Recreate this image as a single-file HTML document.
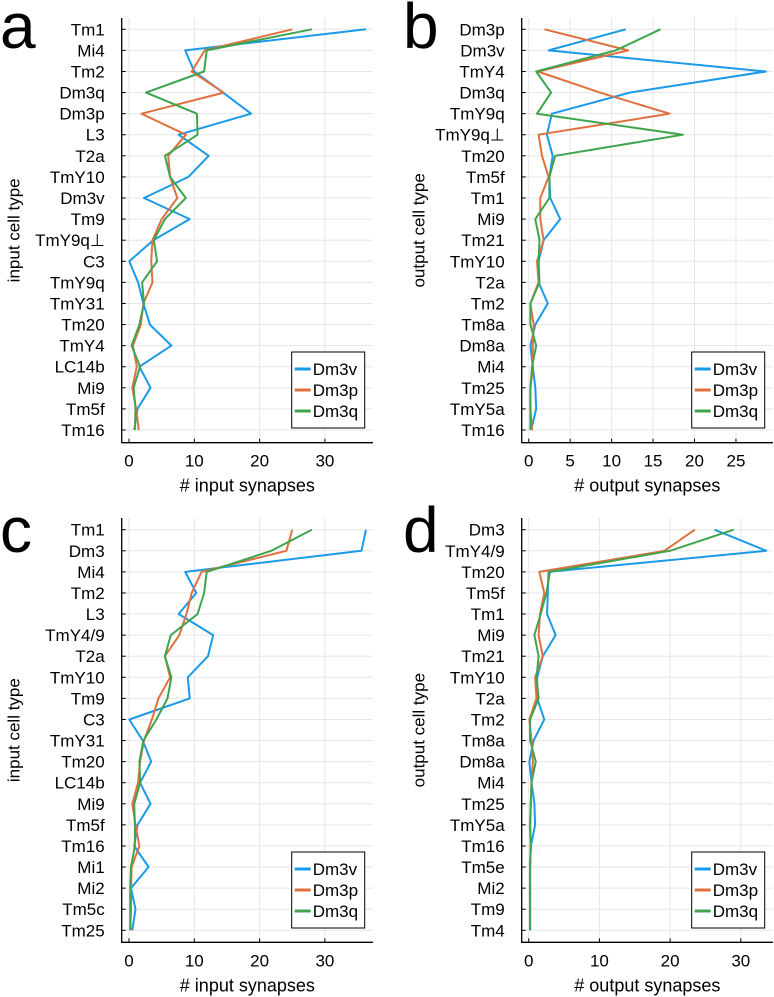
<!DOCTYPE html>
<html><head><meta charset="utf-8"><style>
body{margin:0;background:#fff;}
svg{display:block;font-family:"Liberation Sans",sans-serif;}
</style></head><body>
<svg id="fig" width="774" height="997"></svg>
<script>
const catsA=["Tm1","Mi4","Tm2","Dm3q","Dm3p","L3","T2a","TmY10","Dm3v","Tm9","TmY9q⊥","C3","TmY9q","TmY31","Tm20","TmY4","LC14b","Mi9","Tm5f","Tm16"];
const aDm3v=[36.3,8.6,10,14.4,18.7,7.6,12.2,9.1,2.3,9.3,3.7,0.05,1.4,2.2,3.2,6.5,1.6,3.3,1.3,0.8];
const aDm3p=[25,11.6,9.6,14.5,1.9,8.7,6,6.3,7.4,5,3.6,3.4,3.6,2.2,1.8,0.6,1.2,0.5,1.1,1.5];
const aDm3q=[28,11.9,11.5,2.6,10.4,10.5,5.5,6.3,8.7,5.5,3.8,4.3,2,2.3,1.6,0.4,1.7,0.7,1,0.9];
const catsB=["Dm3p","Dm3v","TmY4","Dm3q","TmY9q","TmY9q⊥","Tm20","Tm5f","Tm1","Mi9","Tm21","TmY10","T2a","Tm2","Tm8a","Dm8a","Mi4","Tm25","TmY5a","Tm16"];
const bDm3v=[11.7,2.4,28.6,12.2,2.8,2.2,2.9,2.5,2.6,3.8,1.8,1.2,1.2,2.3,0.8,0.2,0.5,0.8,0.9,0.3];
const bDm3p=[1.9,12,1.1,8.6,17,1.2,1.6,2.4,1.4,1.4,1.8,1,1.2,0.2,0.6,0.5,0.5,0.2,0.2,0.4];
const bDm3q=[15.9,10.5,0.9,2.7,1,18.6,3.2,2.5,2.5,0.8,1.3,1.2,1.3,0.2,0.2,0.9,0.4,0.2,0.2,0.2];
const catsC=["Tm1","Dm3","Mi4","Tm2","L3","TmY4/9","T2a","TmY10","Tm9","C3","TmY31","Tm20","LC14b","Mi9","Tm5f","Tm16","Mi1","Mi2","Tm5c","Tm25"];
const cDm3v=[36.3,35.6,8.6,10.3,7.6,12.9,12.1,9,9.3,0.05,2.1,3.4,1.7,3.3,1.3,0.8,3,0.3,1,0.5];
const cDm3p=[25,24.1,11.1,9.6,8.8,7.7,5.5,6.3,4.5,3.5,2.3,1.7,1.4,0.5,1,1.6,0.4,0.3,0.3,0.2];
const cDm3q=[28,21.8,11.9,11.5,10.5,6.4,5.5,6.5,5.9,4.2,2.2,1.6,1.7,0.8,0.9,0.9,0.3,0.2,0.2,0.2];
const catsD=["Dm3","TmY4/9","Tm20","Tm5f","Tm1","Mi9","Tm21","TmY10","T2a","Tm2","Tm8a","Dm8a","Mi4","Tm25","TmY5a","Tm16","Tm5e","Mi2","Tm9","Tm4"];
const dDm3v=[26.3,33.6,2.8,2.7,2.6,3.8,2,1.2,1.2,2.2,0.7,0.1,0.4,0.8,0.9,0.3,0.2,0.2,0.2,0.2];
const dDm3p=[23.5,19.2,1.5,2.2,1.6,1.4,2,0.9,1.1,0.1,0.4,0.6,0.4,0.3,0.2,0.3,0.2,0.2,0.2,0.2];
const dDm3q=[29,20,3,2.5,1.7,0.8,1.4,1.1,1.4,0.2,0.2,1,0.4,0.3,0.2,0.3,0.2,0.2,0.2,0.2];
const ticksA=[0,10,20,30], ticksB=[0,5,10,15,20,25], ticksC=[0,10,20,30], ticksD=[0,10,20,30];
const seriesNames=["Dm3v","Dm3p","Dm3q"];
const colors=["#1a9ae8","#e0703f","#3ea44e"];
const NS="http://www.w3.org/2000/svg";
const svg=document.getElementById('fig');
function mk(tag,attrs,parent){const e=document.createElementNS(NS,tag);for(const k in attrs)e.setAttribute(k,attrs[k]);(parent||svg).appendChild(e);return e;}
function panel(id,letter,cats,series,ticks,x0px,unit,left,right,top,bottom,yTop,yBot,ytitle,xtitle,legX,legY){
  const g=mk('g',{});
  
  
  const sx=v=>x0px+v*unit;
  const step=(yBot-yTop)/(cats.length-1);
  const sy=i=>yTop+i*step;
  ticks.forEach(t=>{const l=mk('line',{x1:sx(t),x2:sx(t),y1:top,y2:bottom,stroke:'#e6e6e6','stroke-width':1},g);
    });
  cats.forEach((c,i)=>{const l=mk('line',{x1:left,x2:right,y1:sy(i),y2:sy(i),stroke:'#e6e6e6','stroke-width':1},g);
    });
  const ax=mk('path',{d:`M${left},${top}V${bottom}H${right}`,stroke:'#000',fill:'none','stroke-width':1.3},g);
  
  ticks.forEach(t=>{mk('line',{x1:sx(t),x2:sx(t),y1:bottom,y2:bottom-4,stroke:'#000'},g);
    const tx=mk('text',{x:sx(t),y:bottom+24,'text-anchor':'middle','font-size':17},g);tx.textContent=t;
    });
  cats.forEach((c,i)=>{mk('line',{x1:left,x2:left+4,y1:sy(i),y2:sy(i),stroke:'#000'},g);
    const tx=mk('text',{x:left-17,y:sy(i)+6,'text-anchor':'end','font-size':17},g);tx.textContent=c;
    });
  series.forEach((s,k)=>{const pts=s.map((v,i)=>sx(v).toFixed(1)+','+sy(i).toFixed(1)).join(' ');
    const pl=mk('polyline',{points:pts,fill:'none',stroke:colors[k],'stroke-width':2,'stroke-linejoin':'round'},g);
    });
  const lg=mk('g',{},g);
  
  mk('rect',{x:legX,y:legY,width:73,height:76,fill:'#fff',stroke:'#000','stroke-width':1},lg);
  seriesNames.forEach((n,k)=>{const yy=legY+17+k*21;
    mk('line',{x1:legX+3,x2:legX+19,y1:yy,y2:yy,stroke:colors[k],'stroke-width':3},lg);
    const t=mk('text',{x:legX+21,y:yy+6,'font-size':17},lg);t.textContent=n;
    });
  const yt=mk('text',{x:0,y:0,'text-anchor':'middle','font-size':17,transform:`translate(${left-ytitleOff(id)},${(top+bottom)/2}) rotate(-90)`},g);
  yt.textContent=ytitle;
  const xt=mk('text',{x:(left+right)/2,y:bottom+49,'text-anchor':'middle','font-size':18},g);
  xt.textContent=xtitle;
  const lt=mk('text',{x:letter[1],y:letter[2],'font-size':64},g);
  lt.textContent=letter[0];
}
function ytitleOff(id){return (id==='a'||id==='c')?102:97;}
panel('a',['a',0,48],catsA,[aDm3v,aDm3p,aDm3q],ticksA,129,6.53,121.7,373,18,442.7,29.3,430,'input cell type','# input synapses',291.7,352);
panel('b',['b',403,48],catsB,[bDm3v,bDm3p,bDm3q],ticksB,528.7,8.29,521.7,773,18,442.7,29.3,430,'output cell type','# output synapses',691.7,352);
panel('c',['c',0,552],catsC,[cDm3v,cDm3p,cDm3q],ticksC,129,6.53,121.7,373,518,942.3,529.7,930.3,'input cell type','# input synapses',291.7,852);
panel('d',['d',403,552],catsD,[dDm3v,dDm3p,dDm3q],ticksD,528.7,7.07,521.7,773,518,942.3,529.7,930.3,'output cell type','# output synapses',691.7,852);
</script>
</body></html>
